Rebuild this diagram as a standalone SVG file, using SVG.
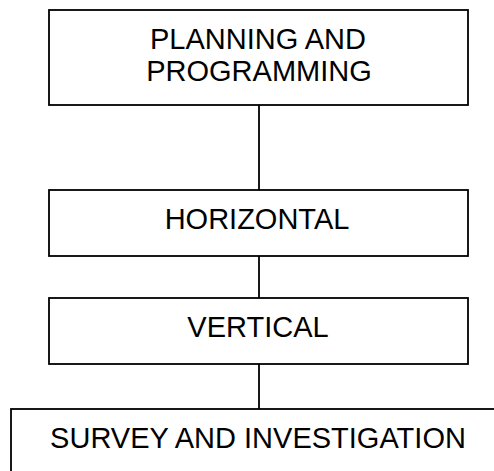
<svg xmlns="http://www.w3.org/2000/svg" width="494" height="471" viewBox="0 0 494 471">
<style>
.box{fill:#fff;stroke:#000;stroke-width:1.8}
.lbl{font-family:"Liberation Sans",Arial,sans-serif;font-size:29px;fill:#000;text-anchor:middle}
.conn{stroke:#000;stroke-width:1.8;fill:none}
</style>
<rect width="494" height="471" fill="#fff"/>
<g id="connectors">
<line class="conn" x1="259" y1="105" x2="259" y2="190"/>
<line class="conn" x1="259" y1="256" x2="259" y2="298"/>
<line class="conn" x1="259" y1="364" x2="259" y2="409"/>
</g>
<g id="planning">
<rect class="box" x="49" y="10" width="419" height="95"/>
<text class="lbl" x="258" y="49">PLANNING AND</text>
<text class="lbl" x="259" y="81">PROGRAMMING</text>
</g>
<g id="horizontal">
<rect class="box" x="49" y="190" width="419" height="66"/>
<text class="lbl" x="257" y="229">HORIZONTAL</text>
</g>
<g id="vertical">
<rect class="box" x="49" y="298" width="419" height="66"/>
<text class="lbl" x="258" y="337">VERTICAL</text>
</g>
<g id="survey">
<rect class="box" x="11" y="409" width="500" height="80"/>
<text class="lbl" x="258" y="448">SURVEY AND INVESTIGATION</text>
</g>
</svg>
